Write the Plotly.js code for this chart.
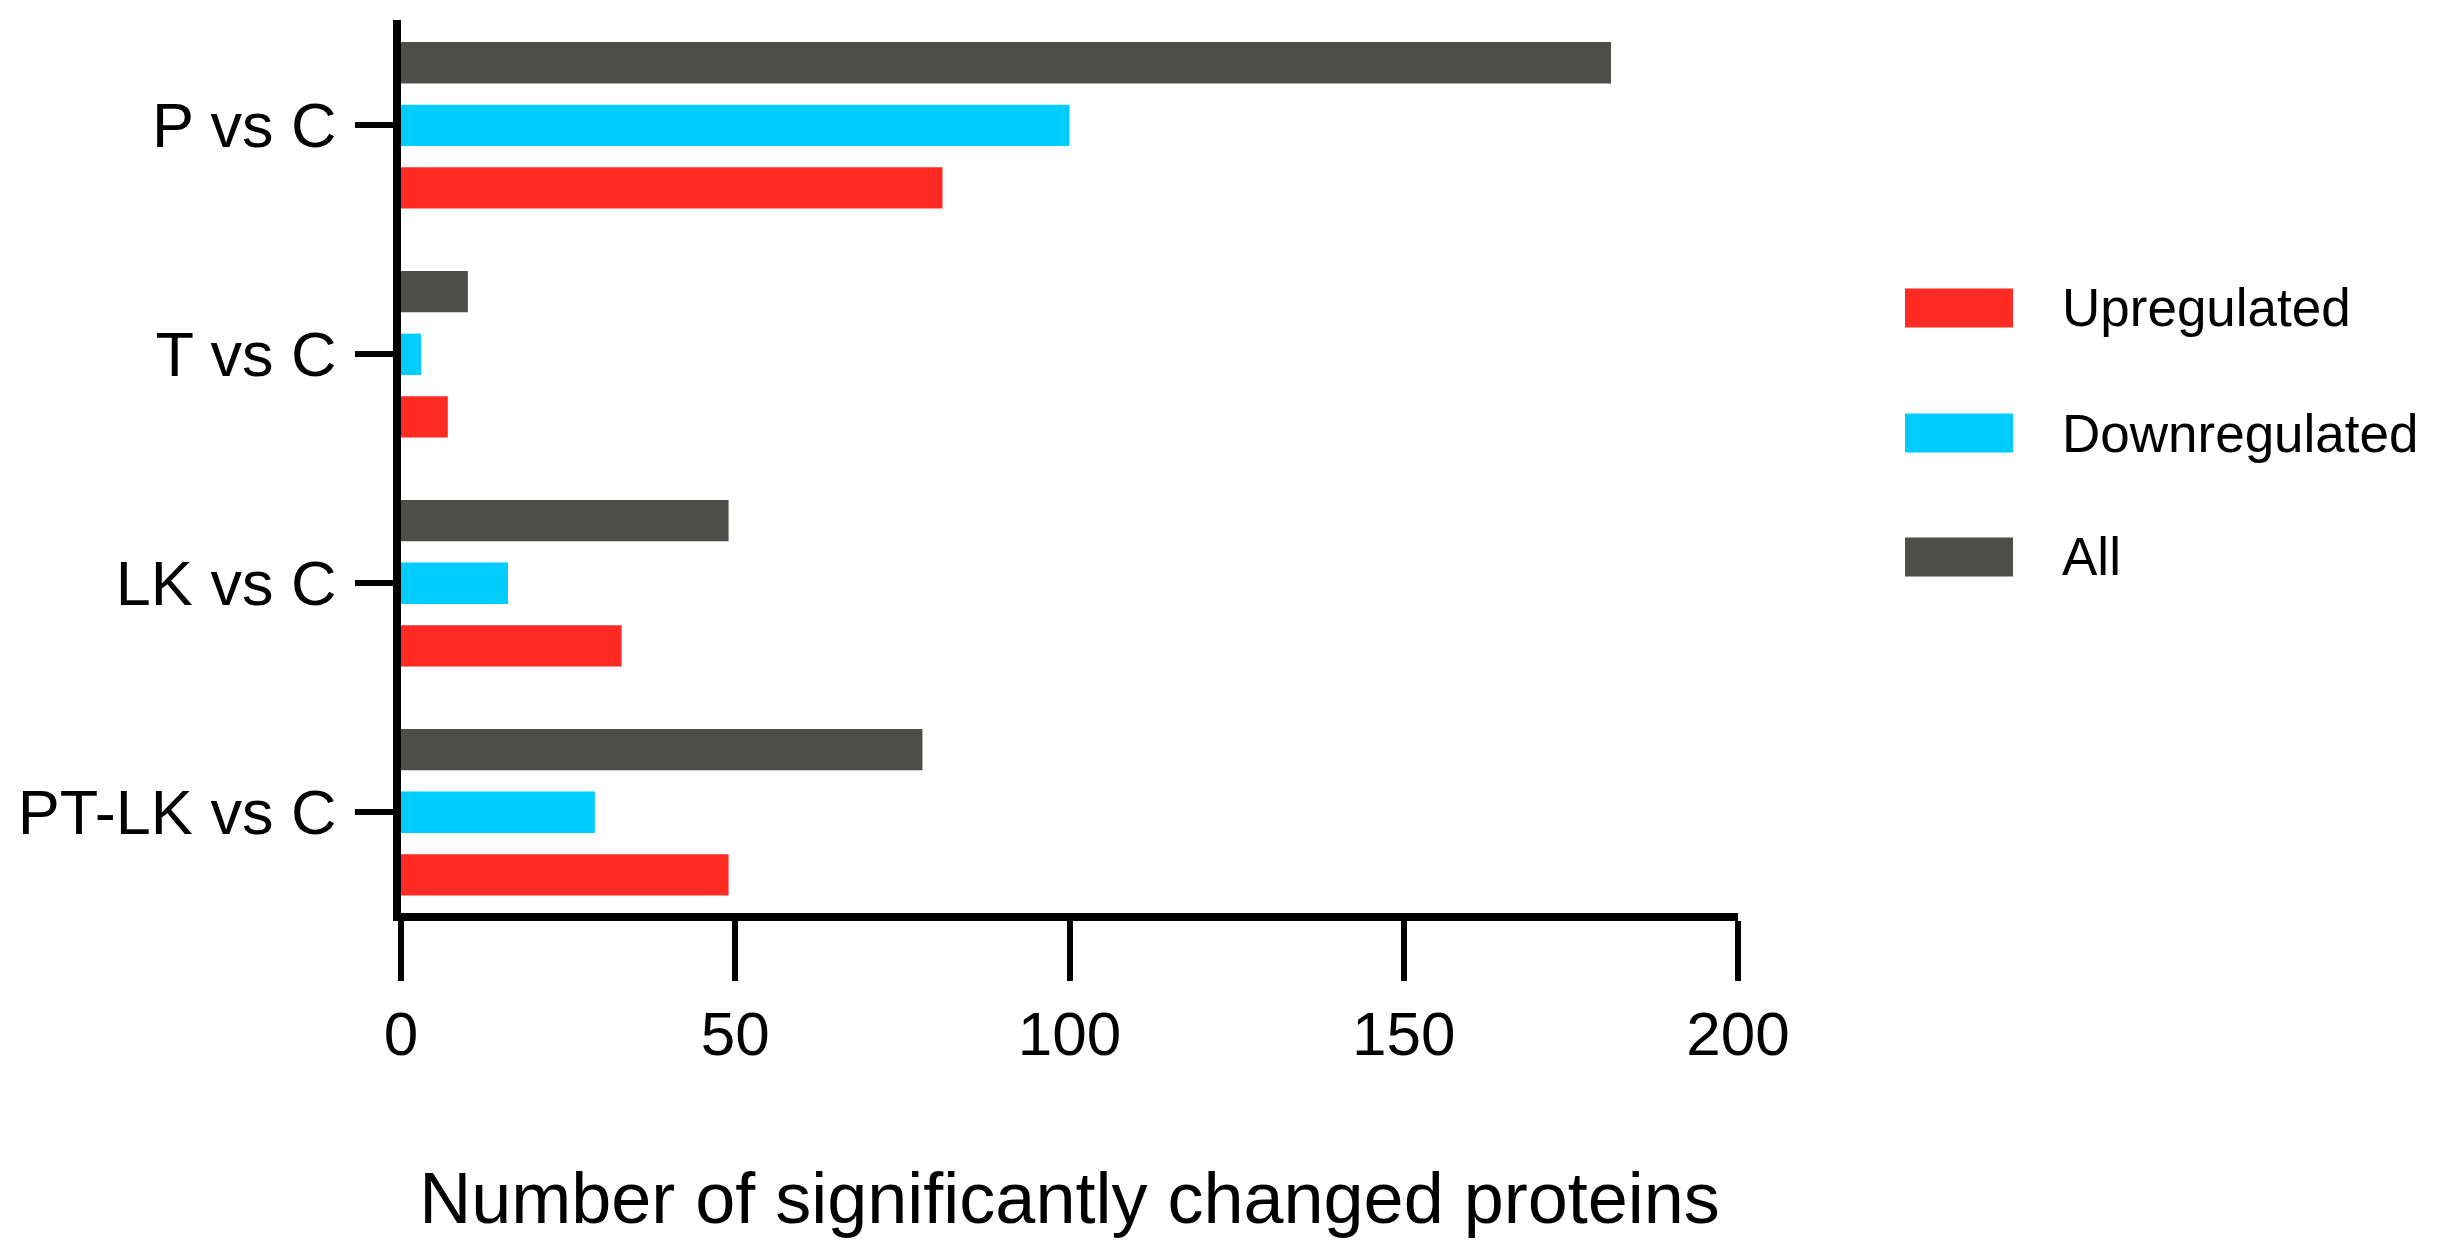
<!DOCTYPE html>
<html>
<head>
<meta charset="utf-8">
<script src="https://cdn.plot.ly/plotly-3.0.1.min.js"></script>
<style>
  html, body { margin: 0; padding: 0; background: #ffffff; }
  #chart { width: 2440px; height: 1252px; }
</style>
</head>
<body>
<div id="chart"></div>
<script>
// ---- data ----
const categories = ["PT-LK vs C", "LK vs C", "T vs C", "P vs C"];
const seriesNames = ["Upregulated", "Downregulated", "All"];
const upregulated = [49, 33, 7, 81];
const downregulated = [29, 16, 3, 100];
const allChanged = [78, 49, 10, 181];
const xTickValues = [0, 50, 100, 150, 200];
const xTitle = "Number of significantly changed proteins";

// ---- styles ----
const colors = ["#FF2A22", "#00CCFF", "#4D4D4A"];
const FONT = "Liberation Sans, Arial, Helvetica, sans-serif";
const seriesValues = [upregulated, downregulated, allChanged];

const traces = seriesNames.map((name, i) => ({
  type: "bar",
  orientation: "h",
  name: name,
  y: categories,
  x: seriesValues[i],
  marker: { color: colors[i], line: { width: 0 } },
  showlegend: false,
  hoverinfo: "x+y+name"
}));

// manual legend (large rectangular swatches)
const legendRowsY = [0.6775, 0.5375, 0.3987];
const swatchHalf = 0.0218;
const shapes = seriesNames.map((n, i) => ({
  type: "rect", xref: "paper", yref: "paper",
  x0: 1.1249, x1: 1.2057,
  y0: legendRowsY[i] - swatchHalf, y1: legendRowsY[i] + swatchHalf,
  fillcolor: colors[i], line: { width: 0 }
}));
const annotations = seriesNames.map((n, i) => ({
  xref: "paper", yref: "paper",
  x: 1.2408, y: legendRowsY[i],
  xanchor: "left", yanchor: "middle",
  text: n, showarrow: false,
  font: { family: FONT, size: 53, color: "#000000" }
}));

const layout = {
  width: 2440,
  height: 1252,
  paper_bgcolor: "#ffffff",
  plot_bgcolor: "#ffffff",
  margin: { l: 401, r: 702, t: 20, b: 339, pad: 0 },
  barmode: "group",
  bargap: 0.18,
  bargroupgap: 0.34,
  showlegend: false,
  font: { family: FONT, color: "#000000" },
  xaxis: {
    range: [0, 200],
    tickvals: xTickValues,
    ticktext: xTickValues.map(String),
    showgrid: false,
    zeroline: false,
    showline: true,
    linecolor: "#000000",
    linewidth: 8,
    ticks: "outside",
    ticklen: 60,
    tickwidth: 6,
    tickcolor: "#000000",
    tickfont: { family: FONT, size: 62, color: "#000000" },
    automargin: false,
    title: { text: xTitle, font: { family: FONT, size: 72, color: "#000000" }, standoff: 108 }
  },
  yaxis: {
    type: "category",
    categoryorder: "array",
    categoryarray: categories,
    range: [-0.44, 3.46],
    showgrid: false,
    zeroline: false,
    showline: true,
    linecolor: "#000000",
    linewidth: 8,
    ticks: "outside",
    ticklen: 38,
    tickwidth: 6,
    tickcolor: "#000000",
    ticklabelstandoff: 6,
    tickfont: { family: FONT, size: 63, color: "#000000" },
    automargin: false
  },
  shapes: shapes,
  annotations: annotations
};

Plotly.newPlot("chart", traces, layout, { displayModeBar: false, staticPlot: true });
</script>
</body>
</html>
